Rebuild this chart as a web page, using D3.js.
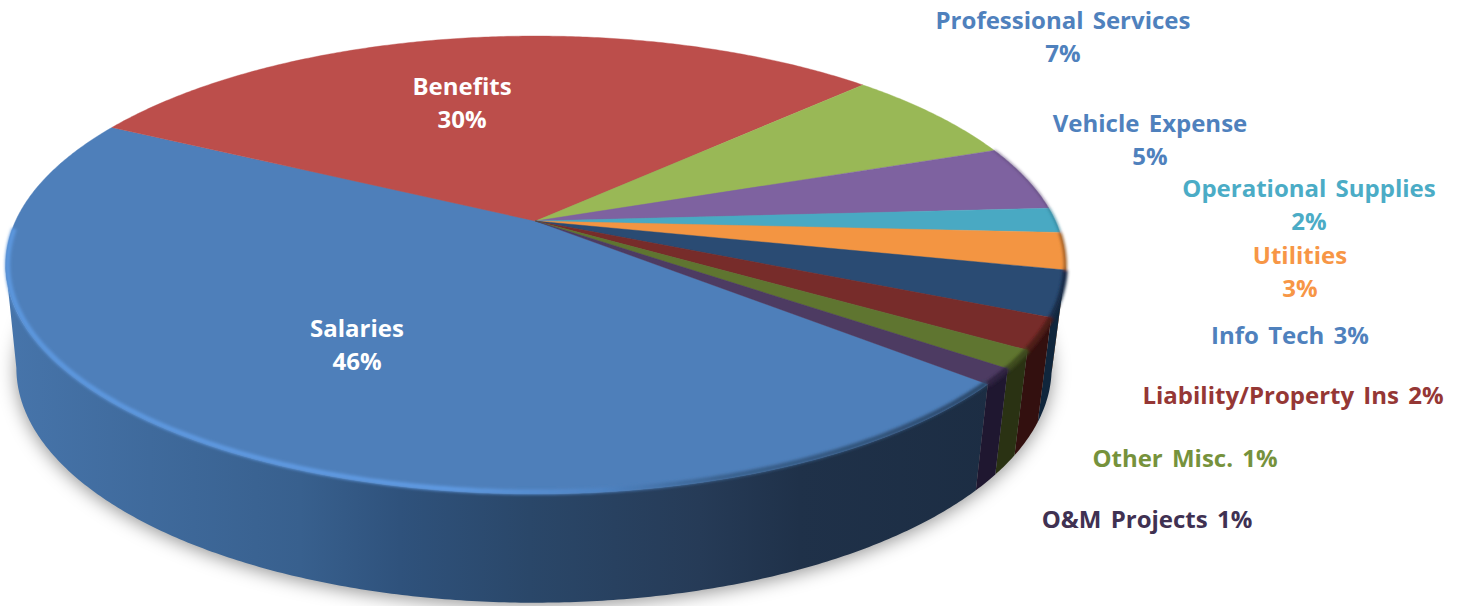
<!DOCTYPE html>
<html>
<head>
<meta charset="utf-8">
<title>Expense breakdown</title>
<script src="https://cdnjs.cloudflare.com/ajax/libs/d3/7.8.5/d3.min.js"></script>
<style>
  html, body { margin: 0; padding: 0; background: #fff; }
  svg { display: block; }
  text { font-family: "Open Sans", Lato, sans-serif; font-weight: 700; text-anchor: middle; dominant-baseline: central; }
</style>
</head>
<body>
<svg id="chart" width="1460" height="606"></svg>
<script>
// Budget shares, in percent
const categories = ["Salaries", "Benefits", "Professional Services", "Vehicle Expense", "Operational Supplies",
  "Utilities", "Info Tech", "Liability/Property Ins", "Other Misc.", "O&M Projects"];
const shares = [46.4, 30.0, 6.8, 4.6, 1.75, 2.6, 3.2, 2.2, 1.3, 1.1];

// Slice, wall and label colours, in category order
const faceColors = ["#4e7fba", "#bc4e4b", "#99b856", "#7e62a0", "#49a9c3", "#f39542", "#2a4b73", "#772c2a", "#5f7530", "#4d3b62"];
const wallColors = ["#1e3048", "#7a2f2d", "#627a38", "#533f6c", "#2f7f95", "#9a5a22", "#10263c", "#33100f", "#2a3213", "#1f1730"];
const labelColors = ["#ffffff", "#ffffff", "#4f81bd", "#4f81bd", "#4bacc6", "#f79646", "#4f81bd", "#953735", "#76923c", "#403152"];

// Label placement: centre x, first line y, and whether the share wraps onto a second line
const labelX = [357, 462, 1063, 1150, 1309, 1300, 1290, 1293, 1185, 1147];
const labelY = [327, 85, 19, 122, 187, 254, 334, 394, 457, 518];
const labelWraps = [true, true, true, true, true, true, false, false, false, false];

// Colour of the front wall of the largest slice, running left to right
const wallRampX = [0, 150, 300, 400, 530, 700, 800, 1000];
const wallRampColor = ["#4775ab", "#3f6a9c", "#38608e", "#2f527c", "#2a4769", "#263b57", "#1f3149", "#1c2d43"];

const svg = d3.select("#chart");
const defs = svg.append("defs");

// The disc is tilted in perspective: a circle projects to an ellipse whose
// hub sits above the ellipse centre.
const tilt = -0.192;
const topDisc = { hubX: 535.5, hubY: 221, a: 520, b: 220.5 };
const bevelDisc = { hubX: 535.5, hubY: 221, a: 518, b: 219 };
const baseDisc = { hubX: 534, hubY: 323, a: 508, b: 226 };

function project(disc, angle) {
  const X = Math.sin(angle), Y = -Math.cos(angle), w = 1 + tilt * Y;
  return [disc.hubX + disc.a * X / w, disc.hubY + disc.b * Y / w];
}
const rad = d => d * Math.PI / 180;
const rimPoints = (disc, a0, a1) => {
  const n = Math.max(2, Math.ceil(Math.abs(a1 - a0) / rad(0.5)));
  return d3.range(n + 1).map(i => project(disc, a0 + (a1 - a0) * i / n));
};
const line = d3.line();

const pie = d3.pie().sort(null).startAngle(rad(130.4)).endAngle(rad(490.4));
const slices = pie(shares);

// The wall is only seen between the disc's two horizontal extremes
const extremeAngle = Math.acos(tilt);
const wallFrom = extremeAngle, wallTo = 2 * Math.PI - extremeAngle;
const wallSpans = slices.map(d => {
  // Angles past a full turn belong to the back half, measured from 0 again
  const s = d.startAngle % (2 * Math.PI), e = s + (d.endAngle - d.startAngle);
  return { a0: Math.max(s, wallFrom), a1: Math.min(e, wallTo) };
});

// Filters
defs.append("filter").attr("id", "shadowBlur")
  .attr("x", "-10%").attr("y", "-10%").attr("width", "120%").attr("height", "120%")
  .append("feGaussianBlur").attr("stdDeviation", 9);
defs.append("filter").attr("id", "rimBlur")
  .attr("filterUnits", "userSpaceOnUse").attr("x", -20).attr("y", 0).attr("width", 1120).attr("height", 606)
  .append("feGaussianBlur").attr("stdDeviation", 1.6);

// Horizontal ramp for the large front wall
const xScale = d3.scaleLinear().domain([0, 1000]).range([0, 1]);
const wallGrad = defs.append("linearGradient").attr("id", "wallRamp")
  .attr("gradientUnits", "userSpaceOnUse").attr("x1", 0).attr("x2", 1000).attr("y1", 0).attr("y2", 0);
wallRampX.forEach((x, i) => wallGrad.append("stop").attr("offset", xScale(x)).attr("stop-color", wallRampColor[i]));

// Highlight along the front rim of the large slice; it fades into the wall on the right
const rimGrad = defs.append("linearGradient").attr("id", "rimRamp")
  .attr("gradientUnits", "userSpaceOnUse").attr("x1", 0).attr("x2", 1000).attr("y1", 0).attr("y2", 0);
[[0, "#5c97de"], [0.45, "#5f9ae2"], [0.6, "#4f84c4"], [0.72, "#3a628f"], [1, "#2a4667"]]
  .forEach(([o, c]) => rimGrad.append("stop").attr("offset", o).attr("stop-color", c));

// Soft shadow under the disc
svg.append("path")
  .attr("d", line(rimPoints(baseDisc, 0, Math.PI * 2)) + "Z")
  .attr("transform", "translate(0,3)")
  .attr("fill", "#000").attr("fill-opacity", 0.42)
  .attr("filter", "url(#shadowBlur)");

// Side walls: each visible slice is one band between the top rim and the base rim
svg.append("g").selectAll("path").data(slices).join("path")
  .attr("d", (d, i) => {
    const { a0, a1 } = wallSpans[i];
    if (a1 <= a0) return null;
    return line([...rimPoints(topDisc, a0, a1), ...rimPoints(baseDisc, a1, a0)]) + "Z";
  })
  .attr("fill", (d, i) => i === 0 ? "url(#wallRamp)" : wallColors[i]);

// Top faces
svg.append("g").selectAll("path").data(slices).join("path")
  .attr("d", d => line([[topDisc.hubX, topDisc.hubY], ...rimPoints(topDisc, d.startAngle, d.endAngle)]) + "Z")
  .attr("fill", (d, i) => faceColors[i])
  .attr("stroke", (d, i) => faceColors[i]).attr("stroke-width", 0.4);

// Bevel along the visible rim; the large slice's highlight stops near its left extreme
const rims = svg.append("g").attr("filter", "url(#rimBlur)").attr("fill", "none");
const rimStroke = ["url(#rimRamp)", null, null, "#5a4674", "#2f7f95", "#9a5a22", "#142c46", "#4e1a19", "#3c4a1d", "#2f2340"];
const rimWidth = [5, 0, 0, 1.5, 2, 3, 5, 6, 6, 6];
slices.forEach((d, i) => {
  if (!rimStroke[i]) return;
  const end = i === 0 ? rad(268) : d.endAngle;
  rims.append("path")
    .attr("d", line(rimPoints(i === 0 ? bevelDisc : topDisc, d.startAngle, end)))
    .attr("stroke", rimStroke[i]).attr("stroke-width", rimWidth[i]);
});

// Labels: category plus the share rounded to a whole percent
const pct = d3.format(".0f");
const labels = svg.append("g").attr("font-size", 24).attr("word-spacing", 3);
categories.forEach((name, i) => {
  const share = pct(shares[i]) + "%";
  const t = labels.append("text").attr("fill", labelColors[i]);
  if (labelWraps[i]) {
    t.append("tspan").attr("x", labelX[i]).attr("y", labelY[i]).text(name);
    t.append("tspan").attr("x", labelX[i]).attr("y", labelY[i] + 33).text(share);
  } else {
    t.attr("x", labelX[i]).attr("y", labelY[i]).text(name + " " + share);
  }
});
</script>
</body>
</html>
